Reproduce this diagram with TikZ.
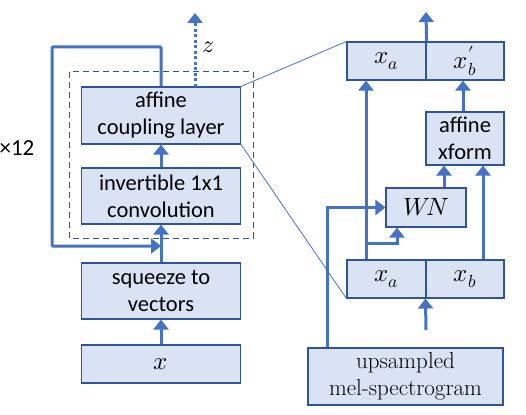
\documentclass[tikz,border=0pt]{standalone}
\usepackage{fontspec}
\usepackage{unicode-math}
\setmathfont{Latin Modern Math}
\setsansfont{Carlito}
\usetikzlibrary{arrows.meta,calc}
\definecolor{boxfill}{HTML}{DAE3F3}
\definecolor{boxdraw}{HTML}{2F5597}
\definecolor{arr}{HTML}{4472C4}
\begin{document}
\begin{tikzpicture}[x=1pt,y=-1pt,
  blk/.style={draw=boxdraw,fill=boxfill,line width=1.1pt,inner sep=0pt,align=center,font=\sffamily\fontsize{22.5}{27}\selectfont},
  mth/.style={blk,font=\fontsize{25}{28}\selectfont},
  flow/.style={draw=arr,line width=3pt,-{Triangle[width=15pt,length=10pt]}},
  thin/.style={draw=arr,line width=0.8pt}]
\useasboundingbox (0,0) rectangle (526,414);
% left column
\node[blk,minimum width=159pt,minimum height=57pt] (acl) at (161,115.5) {affine\\coupling layer};
\node[blk,minimum width=159pt,minimum height=56pt] (inv) at (161,196) {invertible 1x1\\convolution};
\node[blk,minimum width=159pt,minimum height=56pt] (sq) at (161,291) {squeeze to\\vectors};
\node[mth,minimum width=159pt,minimum height=38pt] (xin) at (161,364) {$x$};
\draw[boxdraw,line width=1pt,dash pattern=on 6pt off 4pt] (69,72) rectangle (253,238);
\node[font=\sffamily\fontsize{23}{26}\selectfont] (rep) at (17,148) {×12};
\coordinate (ltop) at (161,47);
\coordinate (ltl) at (52,47);
\coordinate (lbl) at (52,246);
\coordinate (lend) at (161,246);
\draw[flow] (xin.north) -- (sq.south);
\draw[flow] (sq.north) -- (inv.south);
\draw[flow] (inv.north) -- (acl.south);
\draw[flow,rounded corners=1pt] (acl.north) -- (ltop) -- (ltl) -- (lbl) -- (lend);
\coordinate (zs) at (195,87);
\coordinate (ze) at (195,13);
\draw[draw=arr,line width=3pt,dash pattern=on 3pt off 2.5pt] (zs) -- ($(ze)+(0,9)$);
\draw[draw=arr,line width=3pt,-{Triangle[width=15pt,length=10pt]}] ($(ze)+(0,9.5)$) -- (ze);
\node[font=\fontsize{24}{26}\selectfont] (zl) at (208,47) {$z$};
% right column
\node[mth,minimum width=79pt,minimum height=38pt] (ta) at (386.5,61) {$x_a$};
\node[mth,minimum width=78pt,minimum height=38pt] (tb) at (465,61) {$x'_b$};
\node[blk,minimum width=78pt,minimum height=53pt] (aff) at (465,138.5) {affine\\xform};
\node[mth,minimum width=80pt,minimum height=39pt] (wn) at (426,207.5) {$W\!N$};
\node[mth,minimum width=79pt,minimum height=38pt] (ba) at (386.5,279) {$x_a$};
\node[mth,minimum width=78pt,minimum height=38pt] (bb) at (465,279) {$x_b$};
\node[blk,font=\fontsize{23}{27}\selectfont,minimum width=195pt,minimum height=57pt] (mel) at (405.5,376.5) {upsampled\\mel-spectrogram};
% zoom lines
\draw[thin] (acl.north east) -- (ta.north west);
\draw[thin] (acl.south east) -- (ba.south west);
% flows
\coordinate (out) at (426,12);
\draw[flow] (ta.north east) -- (out);
\draw[flow] ($(ba.north)+(-20.5,0)$) -- ($(ta.south)+(-20.5,0)$);
\coordinate (br) at (366,243);
\draw[flow] (br) -| ($(wn.south)+(-29,0)$);
\draw[flow] ($(mel.north)+(-78.5,0)$) |- (wn.west);
\draw[flow] ($(bb.north)+(18,0)$) -- ($(aff.south)+(18,0)$);
\draw[flow] ($(wn.north)+(18,0)$) -- ($(aff.south)+(-21,0)$);
\draw[flow] ($(aff.north)+(-2,0)$) -- ($(tb.south)+(-2,0)$);
\coordinate (in) at (426,330);
\draw[flow] (in) -- (bb.south west);
\end{tikzpicture}
\end{document}
